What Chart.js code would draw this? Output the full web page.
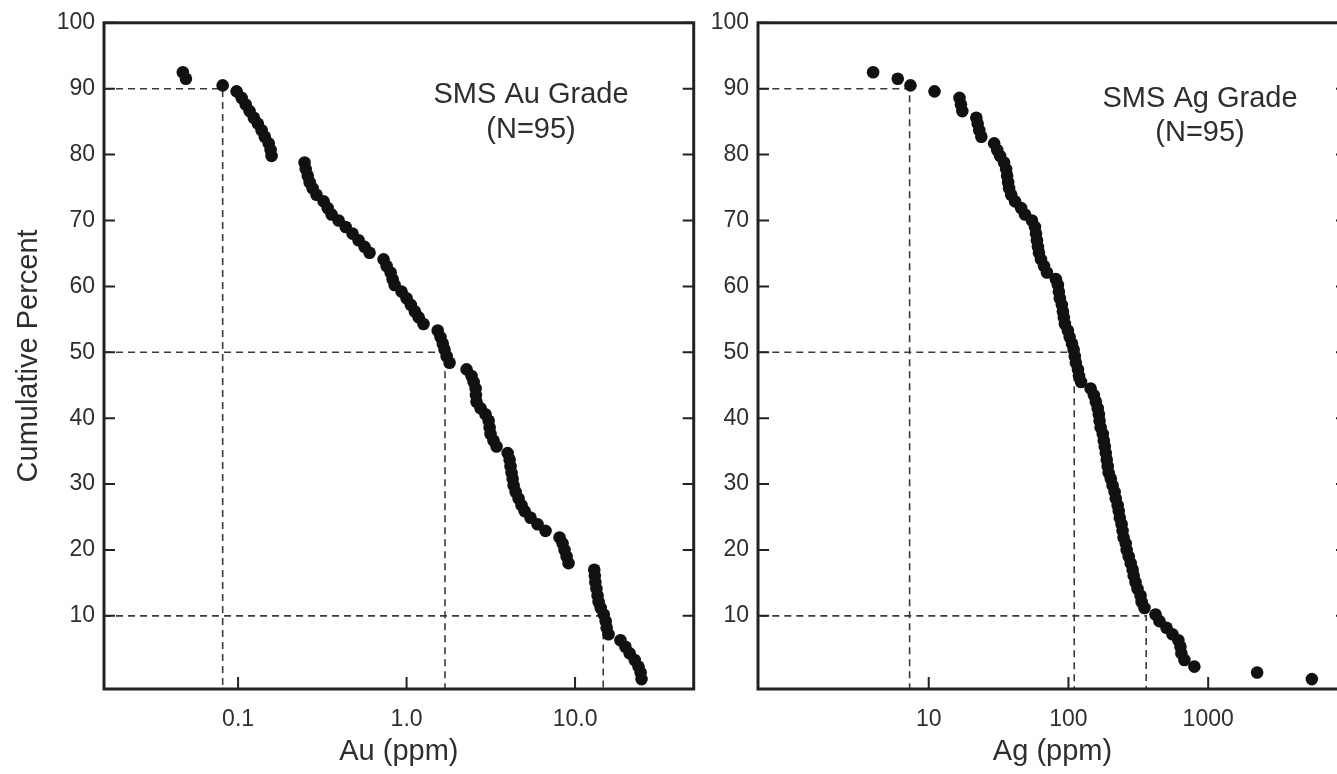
<!DOCTYPE html>
<html>
<head>
<meta charset="utf-8">
<script src="https://cdn.jsdelivr.net/npm/chart.js@4.4.1/dist/chart.umd.min.js"></script>
<style>
  html, body { margin: 0; padding: 0; background: #fff; overflow: hidden; }
  #auChart { position: absolute; left: 0; top: 0; }
  #agChart { position: absolute; left: 700px; top: 0; }
</style>
</head>
<body>
<canvas id="auChart" width="700" height="774"></canvas>
<canvas id="agChart" width="660" height="774"></canvas>
<script>
// cumulative percent of each sample (same ranks in both panels)
const cumPercent = [
  92.5, 91.5, 90.5, 89.6, 88.6, 87.6, 86.6, 85.6, 84.7, 83.7,
  82.7, 81.7, 80.7, 79.8, 78.8, 77.8, 76.8, 75.8, 74.9, 73.9,
  72.9, 71.9, 70.9, 70.0, 69.0, 68.0, 67.0, 66.0, 65.1, 64.1,
  63.1, 62.1, 61.1, 60.2, 59.2, 58.2, 57.2, 56.2, 55.3, 54.3,
  53.3, 52.3, 51.3, 50.4, 49.4, 48.4, 47.4, 46.4, 45.5, 44.5,
  43.5, 42.5, 41.5, 40.6, 39.6, 38.6, 37.6, 36.6, 35.7, 34.7,
  33.7, 32.7, 31.7, 30.8, 29.8, 28.8, 27.8, 26.8, 25.9, 24.9,
  23.9, 22.9, 21.9, 21.0, 20.0, 19.0, 18.0, 17.0, 16.1, 15.1,
  14.1, 13.1, 12.1, 11.2, 10.2, 9.2, 8.2, 7.2, 6.3, 5.3,
  4.3, 3.3, 2.3, 1.4, 0.4
];

// Au grade, ppm
const auPpm = [
  0.047, 0.049, 0.081, 0.098, 0.105, 0.111, 0.117, 0.124, 0.131, 0.138,
  0.144, 0.152, 0.156, 0.158, 0.248, 0.252, 0.259, 0.266, 0.277, 0.292,
  0.322, 0.340, 0.359, 0.395, 0.435, 0.478, 0.519, 0.563, 0.603, 0.730,
  0.761, 0.804, 0.826, 0.849, 0.934, 1.00, 1.06, 1.12, 1.18, 1.26,
  1.53, 1.59, 1.64, 1.68, 1.73, 1.80, 2.27, 2.43, 2.50, 2.57,
  2.58, 2.60, 2.75, 2.94, 3.07, 3.11, 3.15, 3.28, 3.42, 3.98,
  4.09, 4.14, 4.20, 4.26, 4.32, 4.44, 4.62, 4.81, 5.02, 5.44,
  5.99, 6.68, 8.09, 8.43, 8.66, 8.91, 9.15, 13.0, 13.1, 13.2,
  13.4, 13.6, 13.8, 14.2, 14.8, 15.2, 15.4, 15.8, 18.6, 19.9,
  21.1, 22.6, 23.8, 24.5, 24.8
];

// Ag grade, ppm
const agPpm = [
  4.0, 6.0, 7.4, 11.0, 16.6, 17.0, 17.4, 21.9, 22.4, 23.0,
  23.8, 29.4, 30.9, 32.4, 34.6, 35.8, 36.4, 37.0, 37.6, 38.9,
  41.5, 45.8, 48.9, 54.8, 57.6, 58.6, 59.5, 60.5, 61.5, 63.6,
  66.8, 70.2, 81.3, 84.0, 85.4, 86.8, 89.7, 91.2, 92.7, 94.3,
  99.0, 102, 106, 109, 111, 113, 117, 119, 123, 144,
  152, 157, 162, 165, 167, 170, 176, 179, 182, 185,
  188, 191, 194, 201, 207, 214, 218, 225, 229, 233,
  240, 244, 248, 257, 261, 270, 279, 288, 293, 302,
  312, 328, 334, 350, 420, 448, 503, 555, 612, 633,
  643, 676, 796, 2240, 5520
];

const percentTicks = [10, 20, 30, 40, 50, 60, 70, 80, 90, 100];
const auTicks = [0.1, 1, 10];
const auTickLabels = ['0.1', '1.0', '10.0'];
const agTicks = [10, 100, 1000];
const agTickLabels = ['10', '100', '1000'];

// 90th / 50th / 10th percentile guides
const refPercent = [90, 50, 10];
const auRefPpm = [0.081, 1.69, 14.7];
const agRefPpm = [7.3, 110, 360];

const family = "'Liberation Sans', Arial, Helvetica, sans-serif";
Chart.defaults.font.family = family;
Chart.defaults.color = '#2e2e2e';

const yMin = -1.1, yMax = 100;

const framePlugin = {
    id: 'frame',
    afterDatasetsDraw(chart, args, opts) {
        const ctx = chart.ctx;
        const a = chart.chartArea;
        const sx = chart.scales.x, sy = chart.scales.y;
        ctx.save();
        ctx.strokeStyle = '#222';
        ctx.lineWidth = 2;
        ctx.beginPath();
        sy.ticks.forEach(t => {
            const py = sy.getPixelForValue(t.value);
            ctx.moveTo(a.left, py); ctx.lineTo(a.left + 11, py);
            ctx.moveTo(a.right, py); ctx.lineTo(a.right - 11, py);
        });
        sx.ticks.forEach(t => {
            const px = sx.getPixelForValue(t.value);
            ctx.moveTo(px, a.bottom); ctx.lineTo(px, a.bottom - 12);
        });
        ctx.stroke();
        ctx.lineWidth = 3;
        ctx.strokeRect(a.left, a.top, a.right - a.left, a.bottom - a.top);

        // panel label
        ctx.fillStyle = '#2e2e2e';
        ctx.font = '29px ' + family;
        ctx.textAlign = 'center';
        ctx.textBaseline = 'alphabetic';
        opts.lines.forEach((s, i) => {
            ctx.fillText(s, a.left + opts.dx, a.top + opts.dy[i]);
        });
        ctx.restore();
    }
};

function makePanel(id, cfg) {
    const points = cfg.values.map((v, i) => ({ x: v, y: cumPercent[i] }));
    const guides = refPercent.map((p, i) => ({
        data: [{ x: cfg.xMin, y: p }, { x: cfg.refs[i], y: p }, { x: cfg.refs[i], y: yMin }],
        showLine: true,
        borderColor: '#3a3a3a',
        borderWidth: 1.6,
        borderDash: [7, 5],
        pointRadius: 0,
        tension: 0
    }));

    new Chart(document.getElementById(id), {
        type: 'scatter',
        data: {
            datasets: [{
                data: points,
                backgroundColor: '#111',
                borderColor: '#111',
                borderWidth: 0,
                pointRadius: 6.3
            }].concat(guides)
        },
        options: {
            responsive: false,
            animation: false,
            layout: { padding: { left: 0, top: 22, right: cfg.padRight, bottom: 0 } },
            plugins: {
                legend: { display: false },
                tooltip: { enabled: false },
                frame: { lines: cfg.label, dx: cfg.labelDx, dy: cfg.labelDy }
            },
            scales: {
                x: {
                    type: 'logarithmic',
                    min: cfg.xMin,
                    max: cfg.xMax,
                    afterBuildTicks: s => { s.ticks = cfg.ticks.map(v => ({ value: v })); },
                    afterFit: s => { s.height = 85; },
                    grid: { display: false, drawTicks: false },
                    border: { display: false },
                    ticks: {
                        autoSkip: false,
                        maxRotation: 0,
                        padding: 17,
                        font: { size: 23 },
                        callback: (v, i) => cfg.tickLabels[i]
                    },
                    title: {
                        display: true,
                        text: cfg.xTitle,
                        font: { size: 29 },
                        padding: { top: 0, bottom: 5 }
                    }
                },
                y: {
                    min: yMin,
                    max: yMax,
                    afterBuildTicks: s => { s.ticks = percentTicks.map(v => ({ value: v })); },
                    afterFit: s => { s.width = cfg.yWidth; },
                    grid: { display: false, drawTicks: false },
                    border: { display: false },
                    ticks: { padding: 9, font: { size: 23 } },
                    title: {
                        display: cfg.yTitle !== '',
                        text: cfg.yTitle,
                        font: { size: 29 },
                        padding: { top: 12, bottom: 0 }
                    }
                }
            }
        },
        plugins: [framePlugin]
    });
}

makePanel('auChart', {
    values: auPpm, refs: auRefPpm,
    xMin: 0.016, xMax: 50.6,
    ticks: auTicks, tickLabels: auTickLabels,
    xTitle: 'Au (ppm)', yTitle: 'Cumulative Percent',
    yWidth: 104, padRight: 6,
    label: ['SMS Au Grade', '(N=95)'], labelDx: 427, labelDy: [80, 115]
});

makePanel('agChart', {
    values: agPpm, refs: agRefPpm,
    xMin: 0.623, xMax: 9850,
    ticks: agTicks, tickLabels: agTickLabels,
    xTitle: 'Ag (ppm)', yTitle: '',
    yWidth: 58, padRight: 13,
    label: ['SMS Ag Grade', '(N=95)'], labelDx: 442, labelDy: [84, 118]
});
</script>
</body>
</html>
